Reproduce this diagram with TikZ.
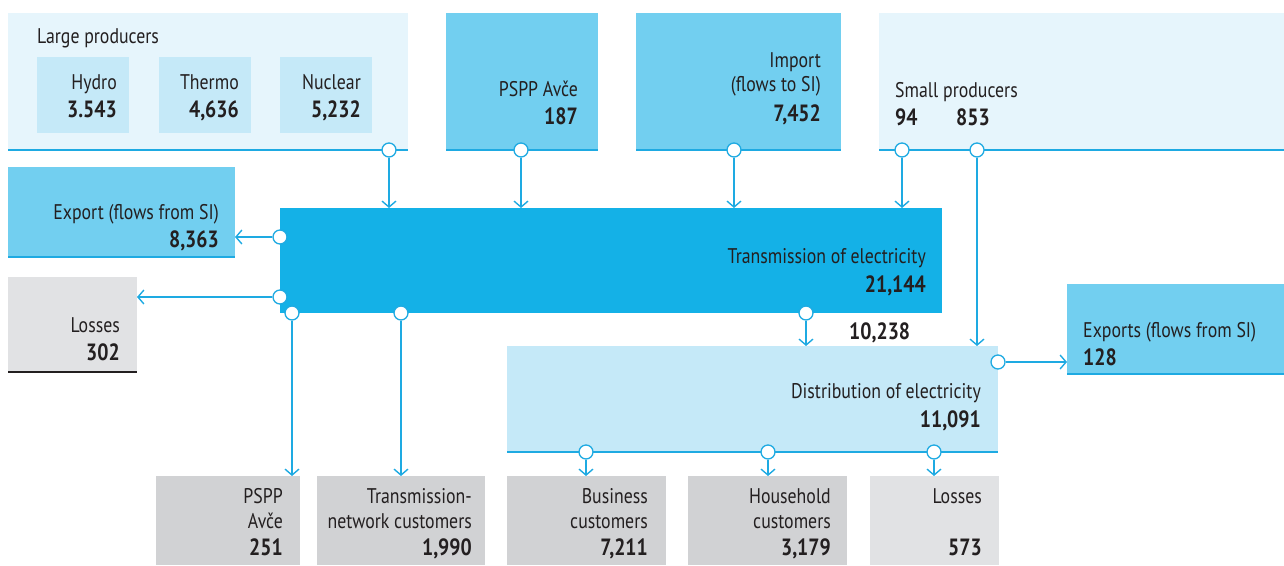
\documentclass[tikz,border=0pt]{standalone}
\usepackage{fontspec}
\setmainfont{PT Sans}[FakeStretch=0.84]
\usetikzlibrary{arrows.meta}
\definecolor{vlb}{HTML}{E6F5FC}
\definecolor{ltb}{HTML}{C5E9F8}
\definecolor{mdb}{HTML}{72CFF0}
\definecolor{stb}{HTML}{14B1E7}
\definecolor{lnb}{HTML}{1EAAE2}
\definecolor{gdk}{HTML}{D1D2D4}
\definecolor{glt}{HTML}{E1E2E4}
\definecolor{tx}{HTML}{231F20}
\newcommand{\regf}{\fontsize{21.2}{24}\selectfont}
\newcommand{\numf}{\fontsize{23.5}{28}\selectfont\bfseries}
\begin{document}
\begin{tikzpicture}[x=1pt,y=-1pt,
  box/.style={inner sep=0pt, outer sep=0pt, anchor=north west},
  lab/.style={inner sep=0pt, anchor=base east, font=\regf, text=tx},
  labl/.style={inner sep=0pt, anchor=base west, font=\regf, text=tx},
  num/.style={inner sep=0pt, anchor=base east, font=\numf, text=tx},
  numl/.style={inner sep=0pt, anchor=base west, font=\numf, text=tx},
  bline/.style={draw=lnb, line width=2.5pt},
  kline/.style={draw=tx, line width=2.5pt},
  dot/.style={circle, draw=lnb, fill=white, line width=1.3pt, minimum size=14pt, inner sep=0pt},
  arr/.style={draw=lnb, line width=1.4pt, -{Straight Barb[length=6pt,width=14pt,line width=1.4pt]}}
]
\useasboundingbox (0,0) rectangle (1284,565);
% boxes
\node[box, fill=vlb, minimum width=400pt, minimum height=137pt] (lp) at (8,13) {};
\node[box, fill=ltb, minimum width=92pt, minimum height=76pt] (hy) at (37,57) {};
\node[box, fill=ltb, minimum width=92pt, minimum height=76pt] (th) at (159,57) {};
\node[box, fill=ltb, minimum width=92pt, minimum height=76pt] (nu) at (280,57) {};
\node[box, fill=mdb, minimum width=152pt, minimum height=137pt] (ps) at (446,13) {};
\node[box, fill=mdb, minimum width=205pt, minimum height=137pt] (im) at (636,13) {};
\node[box, fill=vlb, minimum width=405pt, minimum height=137pt] (sp) at (879,13) {};
\node[box, fill=mdb, minimum width=227pt, minimum height=90pt] (ex) at (8,167) {};
\node[box, fill=glt, minimum width=129pt, minimum height=95pt] (lo) at (8,277) {};
\node[box, fill=stb, minimum width=662pt, minimum height=105pt] (tr) at (280,208) {};
\node[box, fill=ltb, minimum width=491pt, minimum height=106pt] (di) at (507,346) {};
\node[box, fill=mdb, minimum width=217pt, minimum height=90pt] (xr) at (1067,284) {};
\node[box, fill=gdk, minimum width=144pt, minimum height=89pt] (b1) at (156,476) {};
\node[box, fill=gdk, minimum width=168pt, minimum height=89pt] (b2) at (317,476) {};
\node[box, fill=gdk, minimum width=159pt, minimum height=89pt] (b3) at (507,476) {};
\node[box, fill=gdk, minimum width=159pt, minimum height=89pt] (b4) at (688,476) {};
\node[box, fill=glt, minimum width=129pt, minimum height=89pt] (b5) at (870,476) {};
% bottom rules
\draw[bline] (lp.south west) -- (lp.south east);
\draw[bline] (ps.south west) -- (ps.south east);
\draw[bline] (im.south west) -- (im.south east);
\draw[bline] (sp.south west) -- (sp.south east);
\draw[bline] (ex.south west) -- (ex.south east);
\draw[kline] (lo.south west) -- (lo.south east);
\draw[bline] (xr.south west) -- (xr.south east);
\draw[bline] (di.south west) -- (di.south east);
% texts
\node[labl] (tlp) at (37,43) {Large producers};
\node[lab] (thy) at (117,89) {Hydro};
\node[num] (nhy) at (117,117) {3.543};
\node[lab] (tth) at (239,89) {Thermo};
\node[num] (nth) at (239,117) {4,636};
\node[lab] (tnu) at (361,89) {Nuclear};
\node[num] (nnu) at (361,117) {5,232};
\node[lab] (tps) at (578,96) {PSPP Avče};
\node[num] (nps) at (578,124) {187};
\node[lab] (tim1) at (821,67) {Import};
\node[lab] (tim2) at (821,91) {(flows to SI)};
\node[num] (nim) at (821,121) {7,452};
\node[labl] (tsp) at (895,97) {Small producers};
\node[numl] (nsp1) at (895,125) {94};
\node[numl] (nsp2) at (956,125) {853};
\node[lab] (tex) at (219,219) {Export (flows from SI)};
\node[num] (nex) at (219,247) {8,363};
\node[lab] (tlo) at (120,332) {Losses};
\node[num] (nlo) at (120,360) {302};
\node[lab] (ttr) at (926,263) {Transmission of electricity};
\node[num] (ntr) at (926,292) {21,144};
\node[numl] (ntd) at (849,339) {10,238};
\node[labl] (txr) at (1083,337) {Exports (flows from SI)};
\node[numl] (nxr) at (1083,365) {128};
\node[lab] (tdi) at (981,398) {Distribution of electricity};
\node[num] (ndi) at (981,427) {11,091};
\node[lab] (tb11) at (283,503) {PSPP};
\node[lab] (tb12) at (283,528) {Avče};
\node[num] (nb1) at (283,555) {251};
\node[lab] (tb21) at (472,503) {Transmission-};
\node[lab] (tb22) at (472,528) {network customers};
\node[num] (nb2) at (472,555) {1,990};
\node[lab] (tb31) at (648,503) {Business};
\node[lab] (tb32) at (648,528) {customers};
\node[num] (nb3) at (648,555) {7,211};
\node[lab] (tb41) at (831,503) {Household};
\node[lab] (tb42) at (831,528) {customers};
\node[num] (nb4) at (831,555) {3,179};
\node[lab] (tb51) at (982,503) {Losses};
\node[num] (nb5) at (982,555) {573};
% connector dots
\node[dot] (d1) at (389,150) {};
\node[dot] (d2) at (521,150) {};
\node[dot] (d3) at (734,150) {};
\node[dot] (d4) at (902,150) {};
\node[dot] (d5) at (977,150) {};
\node[dot] (d6) at (280,237) {};
\node[dot] (d7) at (280,297) {};
\node[dot] (d8) at (292,313) {};
\node[dot] (d9) at (401,313) {};
\node[dot] (d10) at (806,313) {};
\node[dot] (d11) at (998,362) {};
\node[dot] (d12) at (586,452) {};
\node[dot] (d13) at (768,452) {};
\node[dot] (d14) at (934,452) {};
% connectors
\draw[arr] (d1) -- (d1 |- tr.north);
\draw[arr] (d2) -- (d2 |- tr.north);
\draw[arr] (d3) -- (d3 |- tr.north);
\draw[arr] (d4) -- (d4 |- tr.north);
\draw[arr] (d5) -- (d5 |- di.north);
\draw[arr] (d6) -- (d6 -| ex.east);
\draw[arr] (d7) -- (d7 -| lo.east);
\draw[arr] (d8) -- (d8 |- b1.north);
\draw[arr] (d9) -- (d9 |- b2.north);
\draw[arr] (d10) -- (d10 |- di.north);
\draw[arr] (d11) -- (d11 -| xr.west);
\draw[arr] (d12) -- (d12 |- b3.north);
\draw[arr] (d13) -- (d13 |- b4.north);
\draw[arr] (d14) -- (d14 |- b5.north);
\end{tikzpicture}
\end{document}
